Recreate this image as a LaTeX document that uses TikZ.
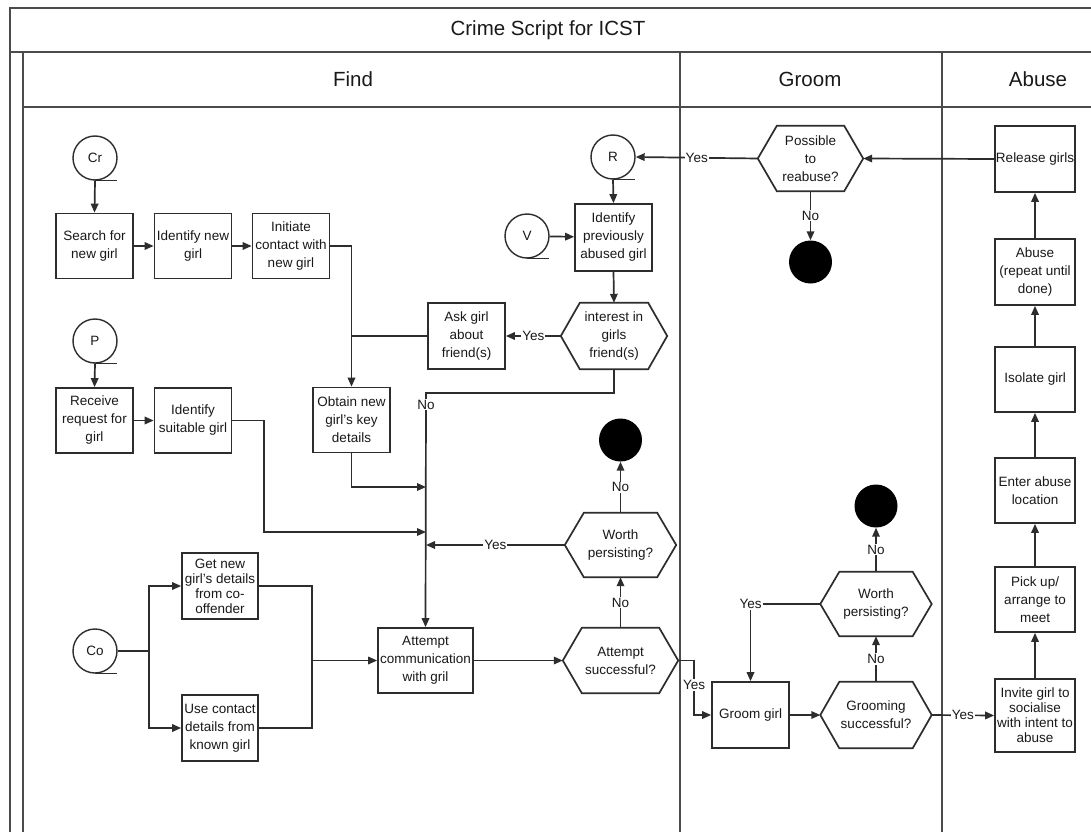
\documentclass[tikz,border=0pt]{standalone}
\usepackage{fontspec}
\setmainfont{Liberation Sans}
\usetikzlibrary{arrows.meta}
\definecolor{ln}{RGB}{45,45,45}
\definecolor{fr}{RGB}{75,75,75}
\definecolor{tx}{RGB}{25,25,25}
\begin{document}
\begin{tikzpicture}[x=1pt,y=-1pt,
  every node/.style={text=tx},
  box/.style={draw=ln, line width=1.7pt, rectangle, minimum width=77pt, minimum height=65pt, inner sep=0pt, align=center, font=\fontsize{13.5}{18}\selectfont},
  tight/.style={font=\fontsize{13.5}{15}\selectfont},
  hexn/.style={rectangle, minimum width=#1, minimum height=65pt, inner sep=0pt, align=center, font=\fontsize{13.5}{18}\selectfont},
  term/.style={circle, draw=ln, line width=1.4pt, minimum size=44pt, inner sep=0pt, font=\fontsize{13.5}{16}\selectfont},
  endc/.style={circle, fill=black, minimum size=43pt, inner sep=0pt},
  conn/.style={draw=ln, line width=1.7pt},
  arr/.style={draw=ln, line width=1.7pt, -{Triangle[length=9pt,width=7.5pt]}},
  lab/.style={fill=white, inner sep=1pt, font=\fontsize{13.5}{16}\selectfont},
  frame/.style={draw=fr, line width=2pt},
  head/.style={font=\fontsize{20.5}{24}\selectfont}
]
\fill[white] (0,0) rectangle (1091,832);
\useasboundingbox (0,0) rectangle (1091,832);

% frame
\draw[frame] (10,832) -- (10,8) -- (1091,8);
\draw[frame] (10,52) -- (1091,52);
\draw[frame] (23,52) -- (23,832);
\draw[frame] (23,107) -- (1091,107);
\draw[frame] (680,52) -- (680,832);
\draw[frame] (942,52) -- (942,832);

\node[head] (title) at (548,30) {Crime Script for ICST};
\node[head] (hfind) at (353,79) {Find};
\node[head] (hgroom) at (810,79) {Groom};
\node[head] (habuse) at (1038,79) {Abuse};

% Find lane
\node[term] (cr) at (95,158) {Cr};
\node[box] (search) at (94.5,246) {Search for\\new girl};
\node[box] (idnew) at (193,246) {Identify new\\girl};
\node[box] (init) at (291,246) {Initiate\\contact with\\new girl};
\node[term] (p) at (95,341) {P};
\node[box] (recv) at (94.5,420.5) {Receive\\request for\\girl};
\node[box] (idsuit) at (193,420.5) {Identify\\suitable girl};
\node[box] (obtain) at (351.5,420) {Obtain new\\girl’s key\\details};
\node[term] (r) at (613,157) {R};
\node[term] (v) at (527,236) {V};
\node[box, minimum height=67pt] (idprev) at (613.5,237.5) {Identify\\previously\\abused girl};
\node[hexn=106pt, minimum height=66pt] (interest) at (614,336) {interest in\\girls\\friend(s)};
\node[box, minimum height=66pt] (ask) at (466.5,336) {Ask girl\\about\\friend(s)};
\node[hexn=111pt, minimum height=64pt] (wp1) at (620.5,545) {Worth\\persisting?};
\node[endc] (end1) at (620.5,440) {};
\node[box, minimum width=95pt] (attcomm) at (425.5,660.5) {Attempt\\communication\\with gril};
\node[hexn=115pt] (attsucc) at (620.5,660.5) {Attempt\\successful?};
\node[term] (co) at (95,651) {Co};
\node[box, tight, minimum width=76pt, minimum height=66pt] (getnew) at (220,586) {Get new\\girl’s details\\from co-\\offender};
\node[box, minimum width=76pt, minimum height=66pt] (usecont) at (220,728) {Use contact\\details from\\known girl};

% Groom lane
\node[hexn=105pt] (poss) at (810.5,158.5) {Possible\\to\\reabuse?};
\node[endc] (end3) at (810.5,262) {};
\node[box, minimum height=66pt] (groomgirl) at (750.5,715) {Groom girl};
\node[hexn=111pt, minimum height=66pt] (gs) at (876,715) {Grooming\\successful?};
\node[hexn=111pt, minimum height=64pt] (wp2) at (876,604) {Worth\\persisting?};
\node[endc] (end2) at (876,506) {};

% Abuse lane
\node[box, minimum width=80pt, minimum height=66pt] (release) at (1035,159) {Release girls};
\node[box, minimum width=80pt, minimum height=66pt] (abuse) at (1035,272) {Abuse\\(repeat until\\done)};
\node[box, minimum width=80pt] (isolate) at (1035,379.5) {Isolate girl};
\node[box, minimum width=80pt] (enter) at (1035,490.5) {Enter abuse\\location};
\node[box, minimum width=80pt] (pickup) at (1035,599.5) {Pick up/\\arrange to\\meet};
\node[box, tight, minimum width=80pt, minimum height=73pt] (invite) at (1035,715.5) {Invite girl to\\socialise\\with intent to\\abuse};

% hexagon outlines
\foreach \n in {interest,wp1,attsucc,poss,gs,wp2}{
  \draw[draw=ln, line width=1.7pt] ([xshift=19pt]\n.north west) -- ([xshift=-19pt]\n.north east) -- (\n.east) -- ([xshift=-19pt]\n.south east) -- ([xshift=19pt]\n.south west) -- (\n.west) -- cycle;
}
% reference tails on circles
\foreach \n in {cr,p,r,v,co}{
  \draw[draw=ln, line width=1.4pt] (\n.south) -- ++(22,0);
}

% coordinates
\coordinate (m1) at (426,487);
\coordinate (m2) at (426,532);
\coordinate (m3) at (426,545);
\coordinate (c1) at (426,393);
\coordinate (c2) at (694,660.5);
\coordinate (c3) at (694,715);
\coordinate (c4) at (149,651);
\coordinate (c5) at (312,660.5);
\coordinate (c6) at (264,420.5);

% Find connectors
\draw[arr] (cr.south) -- (search.north);
\draw[arr] (search) -- (idnew);
\draw[arr] (idnew) -- (init);
\draw[arr] (init.east) -| (obtain.north);
\draw[conn] (ask.west) -- (ask.west -| obtain.north);
\draw[arr] (p.south) -- (recv.north);
\draw[arr] (recv) -- (idsuit);
\draw[arr] (idsuit.east) -- (c6) |- (m2);
\draw[arr] (obtain.south) |- (m1);
\draw[arr] (v) -- (idprev);
\draw[arr] (r.south) -- (idprev.north);
\draw[arr] (idprev.south) -- (interest.north);
\draw[arr] (interest.west) -- node[lab]{Yes} (ask.east);
\draw[arr] (interest.south) |- (c1) -- node[lab, pos=0.05]{No} (attcomm.north);
\draw[arr] (wp1.west) -- node[lab]{Yes} (m3);
\draw[arr] (wp1.north) -- node[lab]{No} (end1.south);
\draw[arr] (attcomm.east) -- (attsucc.west);
\draw[arr] (attsucc.north) -- node[lab]{No} (wp1.south);
\draw[arr] (attsucc.east) -- (c2) -- node[lab, pos=0.45]{Yes} (c3) -- (groomgirl.west);
\draw[conn] (co.east) -- (c4);
\draw[arr] (c4) |- (getnew.west);
\draw[arr] (c4) |- (usecont.west);
\draw[conn] (getnew.east) -| (c5);
\draw[conn] (usecont.east) -| (c5);
\draw[arr] (c5) -- (attcomm.west);

% Groom connectors
\draw[arr] (poss.west) -- node[lab]{Yes} (r.east);
\draw[arr] (poss.south) -- node[lab]{No} (end3.north);
\draw[arr] (groomgirl) -- (gs);
\draw[arr] (gs.north) -- node[lab]{No} (wp2.south);
\draw[arr] (wp2.north) -- node[lab]{No} (end2.south);
\draw[arr] (wp2.west) -| node[lab, pos=0.5]{Yes} (groomgirl.north);
\draw[arr] (gs.east) -- node[lab]{Yes} (invite.west);

% Abuse connectors
\draw[arr] (invite) -- (pickup);
\draw[arr] (pickup) -- (enter);
\draw[arr] (enter) -- (isolate);
\draw[arr] (isolate) -- (abuse);
\draw[arr] (abuse) -- (release);
\draw[arr] (release.west) -- (poss.east);
\end{tikzpicture}
\end{document}
